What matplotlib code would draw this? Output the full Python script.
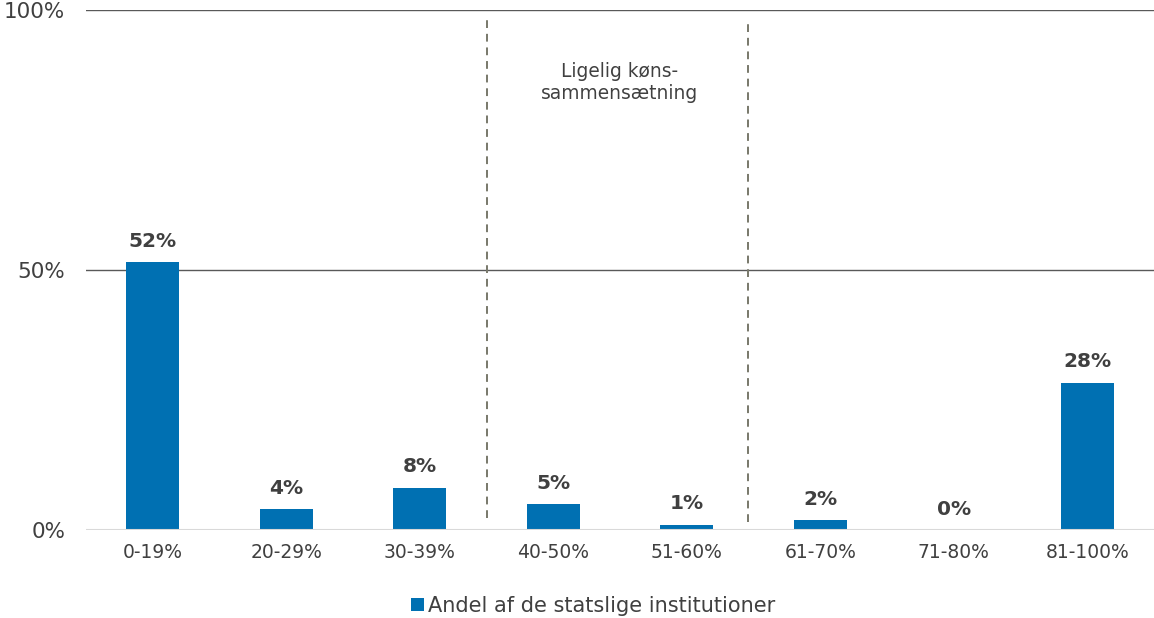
import matplotlib.pyplot as plt
import numpy as np

kategorier = ["0-19%", "20-29%", "30-39%", "40-50%", "51-60%", "61-70%", "71-80%", "81-100%"]
andele = [51.5, 4.0, 8.1, 5.0, 1.0, 1.9, 0.0, 28.3]
etiketter = ["52%", "4%", "8%", "5%", "1%", "2%", "0%", "28%"]

plt.rcParams['font.family'] = ['DejaVu Sans']
tekst_farve = '#404040'

fig = plt.figure(figsize=(11.54, 6.18), dpi=100)
ax = fig.add_axes([86 / 1154, 88 / 618, 1068 / 1154, 520 / 618])

x = np.arange(len(kategorier))
ax.bar(x, andele, width=0.4, color='#0070B2', zorder=3)

for xi, v, lab in zip(x, andele, etiketter):
    ax.text(xi, v + 2.2, lab, ha='center', va='bottom', fontsize=14.5,
            fontweight='bold', color=tekst_farve)

ax.set_xlim(-0.5, len(kategorier) - 0.5)
ax.set_ylim(0, 100)
ax.set_yticks([0, 50, 100])
ax.set_yticklabels(["0%", "50%", "100%"], fontsize=15.5, color=tekst_farve)
ax.set_xticks(x)
ax.set_xticklabels(kategorier, fontsize=13.5, color=tekst_farve)
ax.tick_params(axis='both', length=0)
ax.tick_params(axis='x', pad=9)
ax.tick_params(axis='y', pad=15)

for yv in [50, 100]:
    ax.axhline(yv, color='#595959', linewidth=1, zorder=1)
ax.axhline(0, color='#d9d9d9', linewidth=1.5, zorder=4)
for s in ax.spines.values():
    s.set_visible(False)

# stiplede linjer omkring ligelig kønssammensætning
ax.plot([2.5, 2.5], [2.3, 98.5], color='#78786a', linestyle=(0, (4, 3)), linewidth=1.4, zorder=2)
ax.plot([4.46, 4.46], [1.5, 97.3], color='#78786a', linestyle=(0, (4, 3)), linewidth=1.4, zorder=2)
ax.text(3.5, 86, "Ligelig køns-\nsammensætning", ha='center', va='center',
        fontsize=13.4, color=tekst_farve, linespacing=1.2)

ax.bar([0], [0], color='#0070B2', label='Andel af de statslige institutioner')
fig.legend(loc='center', bbox_to_anchor=(593 / 1154, 1 - 606 / 618), frameon=False,
           fontsize=15, labelcolor=tekst_farve, handlelength=0.6, handleheight=0.6,
           handletextpad=0.2)

fig.savefig('out.png', dpi=100)
